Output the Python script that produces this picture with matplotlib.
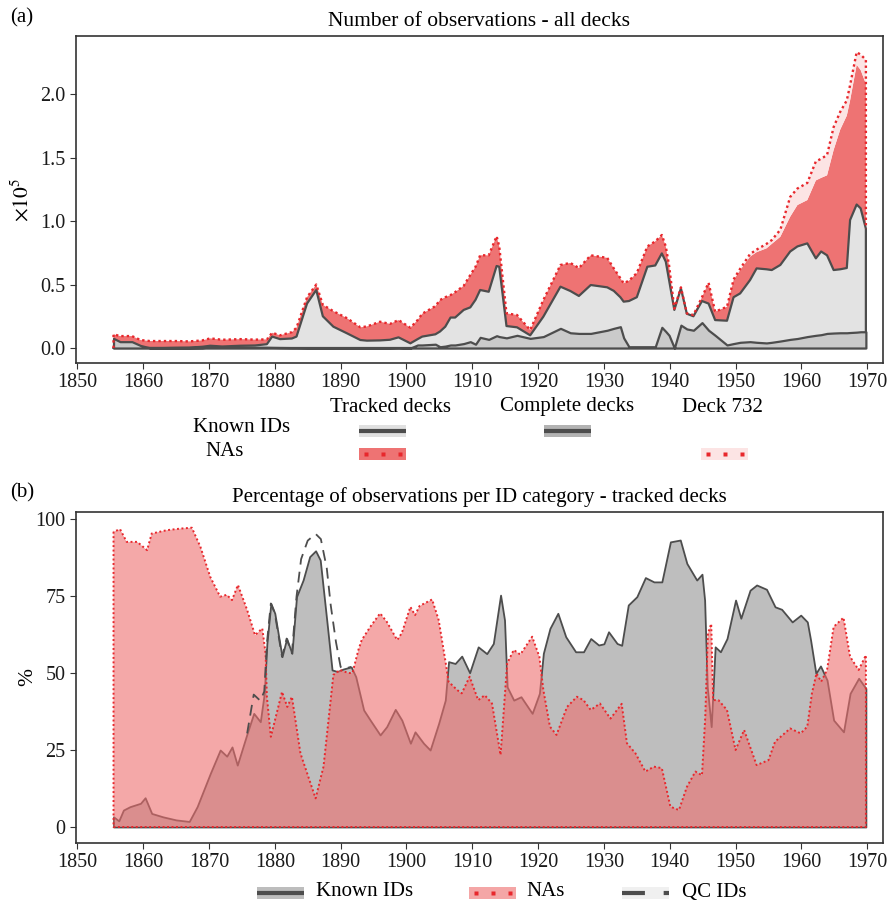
import numpy as np
import matplotlib
matplotlib.use('Agg')
import matplotlib.pyplot as plt
from matplotlib.patches import Rectangle

plt.rcParams['font.family'] = ['Liberation Serif', 'DejaVu Serif']
plt.rcParams['mathtext.fontset'] = 'stix'

# ---------------- panel (a): number of observations, all decks (x 1e5)
a_years = [1855.5, 1856.5, 1858.3, 1859.6, 1861, 1863, 1865, 1867, 1869, 1870.2,
           1872, 1874.8, 1877, 1878.8, 1879.6, 1880.8, 1882.6, 1883.3, 1884.9, 1886.3,
           1887.3, 1888.9, 1891, 1893, 1894, 1896, 1897.5, 1898.8, 1900.6, 1901.7,
           1902.4, 1904.4, 1905.1, 1905.9, 1906.7, 1907.4, 1908.7, 1909.7, 1910.5, 1911.2,
           1912.5, 1913.7, 1914.1, 1915.2, 1916.8, 1918.8, 1920.8, 1923.4, 1924.9, 1926.2,
           1928, 1930.5, 1931.5, 1932.5, 1933, 1933.8, 1935, 1936.6, 1937.8, 1938.8,
           1939.4, 1939.9, 1940.7, 1941.7, 1942.6, 1943.6, 1944.9, 1945.9, 1946.9, 1948.7,
           1949.7, 1950.7, 1952.2, 1953.2, 1954.7, 1955.5, 1956.8, 1958.3, 1959.4, 1960.9,
           1962.2, 1963, 1963.9, 1964.9, 1965.9, 1966.9, 1967.4, 1968.4, 1969.0, 1969.8]

# tracked decks, known IDs
tracked_known = [0, 0, 0, 0, 0, 0, 0.002, 0.003, 0.01, 0.018,
                 0.012, 0.018, 0.02, 0.03, 0.09, 0.07, 0.075, 0.09, 0.35, 0.457,
                 0.25, 0.168, 0.115, 0.063, 0.058, 0.06, 0.065, 0.084, 0.037, 0.07,
                 0.09, 0.108, 0.13, 0.168, 0.24, 0.24, 0.30, 0.32, 0.38, 0.457,
                 0.443, 0.646, 0.64, 0.173, 0.163, 0.10, 0.247, 0.483, 0.449, 0.41,
                 0.496, 0.478, 0.45, 0.40, 0.365, 0.37, 0.40, 0.64, 0.65, 0.745,
                 0.68, 0.535, 0.30, 0.47, 0.27, 0.25, 0.37, 0.35, 0.22, 0.215,
                 0.40, 0.43, 0.535, 0.627, 0.62, 0.614, 0.654, 0.76, 0.80, 0.824,
                 0.706, 0.76, 0.73, 0.614, 0.62, 0.63, 1.008, 1.13, 1.10, 0.94]

# tracked decks, known IDs + NAs
tracked_total = [0.108, 0.094, 0.094, 0.063, 0.055, 0.055, 0.055, 0.052, 0.06, 0.076,
                 0.065, 0.07, 0.066, 0.068, 0.12, 0.10, 0.125, 0.16, 0.40, 0.50,
                 0.34, 0.29, 0.234, 0.163, 0.17, 0.207, 0.19, 0.22, 0.16, 0.22,
                 0.27, 0.33, 0.378, 0.40, 0.417, 0.44, 0.49, 0.575, 0.64, 0.73,
                 0.73, 0.88, 0.80, 0.273, 0.26, 0.142, 0.378, 0.654, 0.67, 0.63,
                 0.73, 0.71, 0.627, 0.55, 0.51, 0.53, 0.59, 0.80, 0.84, 0.89,
                 0.80, 0.65, 0.31, 0.478, 0.273, 0.26, 0.40, 0.514, 0.286, 0.325,
                 0.535, 0.614, 0.72, 0.755, 0.785, 0.82, 0.876, 1.034, 1.126, 1.165,
                 1.32, 1.34, 1.36, 1.56, 1.72, 1.83, 1.95, 2.23, 2.19, 2.08]

# deck 732, NAs (stacked above the tracked decks)
deck732_na = [0, 0, 0, 0, 0, 0, 0, 0, 0, 0,
              0, 0, 0, 0, 0, 0, 0, 0, 0, 0,
              0, 0, 0, 0, 0, 0, 0, 0, 0, 0,
              0, 0, 0, 0, 0, 0, 0, 0, 0, 0,
              0, 0, 0, 0, 0, 0, 0, 0, 0, 0,
              0, 0, 0, 0, 0, 0, 0, 0, 0, 0,
              0, 0, 0, 0, 0, 0, 0, 0, 0, 0,
              0.005, 0.01, 0.02, 0.02, 0.035, 0.03, 0.055, 0.156, 0.13, 0.135,
              0.15, 0.15, 0.16, 0.18, 0.14, 0.12, 0.12, 0.10, 0.12, 0.19]

# complete decks, known IDs
complete_known = [0.076, 0.05, 0.05, 0.02, 0.002, 0.002, 0.002, 0.002, 0.003, 0.008,
                  0.006, 0.008, 0.006, 0.006, 0.005, 0.004, 0.003, 0.003, 0.002, 0.002,
                  0.002, 0.002, 0.002, 0.002, 0.002, 0.002, 0.002, 0.003, 0.0, 0.024,
                  0.024, 0.03, 0.01, 0.015, 0.024, 0.024, 0.035, 0.05, 0.03, 0.084,
                  0.068, 0.097, 0.09, 0.08, 0.10, 0.076, 0.09, 0.155, 0.12, 0.115,
                  0.115, 0.14, 0.155, 0.168, 0.08, 0.01, 0.01, 0.01, 0.01, 0.163,
                  0.13, 0.10, 0.0, 0.18, 0.15, 0.14, 0.2, 0.14, 0.1, 0.024,
                  0.035, 0.045, 0.05, 0.045, 0.04, 0.045, 0.055, 0.068, 0.075, 0.09,
                  0.10, 0.105, 0.115, 0.118, 0.12, 0.12, 0.122, 0.125, 0.128, 0.128]

# ---------------- panel (b): percentage per ID category, tracked decks
b_known_years = [1855.5, 1856.3, 1857.0, 1858.0, 1859.6, 1860.3, 1861.3, 1863.0, 1865.0, 1867.0,
                 1868.2, 1870.2, 1871.7, 1872.7, 1873.5, 1874.3, 1875.8, 1876.8, 1877.8, 1878.4,
                 1878.8, 1879.4, 1880.0, 1881.1, 1881.8, 1882.6, 1883.3, 1884.3, 1885.3, 1886.2,
                 1886.9, 1887.9, 1888.7, 1889.5, 1890.4, 1891.6, 1892.3, 1893.5, 1894.5, 1896.0,
                 1897.0, 1898.3, 1899.3, 1900.6, 1901.3, 1902.6, 1903.6, 1904.9, 1905.9, 1906.4,
                 1907.4, 1908.4, 1909.6, 1910.9, 1912.2, 1913.2, 1914.3, 1914.9, 1915.3, 1916.3,
                 1917.4, 1919.1, 1920.2, 1920.8, 1921.8, 1923.0, 1924.2, 1925.7, 1926.9, 1928.0,
                 1929.2, 1930.0, 1930.7, 1932.0, 1932.7, 1933.7, 1935.0, 1936.3, 1937.6, 1938.8,
                 1940.1, 1941.6, 1942.6, 1944.1, 1944.9, 1945.3, 1945.7, 1946.3, 1946.9, 1947.7,
                 1948.7, 1950.0, 1950.8, 1952.2, 1953.2, 1954.7, 1956.0, 1957.0, 1958.6, 1959.9,
                 1960.9, 1961.4, 1962.2, 1962.9, 1963.9, 1964.9, 1966.4, 1967.4, 1968.7, 1969.8]
b_known = [3.3, 2.0, 5.5, 6.6, 7.7, 9.5, 4.4, 3.3, 2.3, 1.8,
           6.6, 17.4, 25, 23, 26, 20.1, 30.4, 36.9, 34.2, 43.4,
           59.6, 72.6, 69.4, 55.3, 61.2, 56.4, 74.8, 80.2, 87.8, 89.7,
           86.7, 67, 51, 50.5, 51.3, 52, 48.8, 38, 34.7, 29.9,
           32.6, 38.2, 34.7, 27.2, 30.9, 27.2, 25, 33.7, 41.2, 53.7,
           53.1, 55.5, 50.1, 58.5, 56.3, 59.6, 75.3, 67.2, 45.5, 41.2,
           42.3, 36.9, 43.4, 56.4, 64.5, 69.4, 61.8, 56.9, 56.9, 61.2,
           59.1, 59.5, 63.4, 59.6, 59, 72.1, 74.8, 81, 79.6, 79.6,
           92.6, 93.2, 85.6, 80.2, 82.1, 73.7, 45.5, 32.6, 58.5, 56.9,
           61.2, 73.7, 67.8, 76.9, 78.6, 77.2, 71.5, 70.7, 66.6, 68.8,
           66.6, 60.7, 49.9, 52.3, 47.7, 34.7, 30.9, 43.4, 48.3, 45]

b_na_years = [1855.5, 1856.5, 1857.5, 1859.1, 1860.6, 1861.3, 1863.6, 1865.6, 1867.4, 1868.7,
              1870.2, 1871.7, 1872.7, 1873.5, 1874.4, 1875.8, 1877.0, 1878.1, 1878.6, 1878.8,
              1879.4, 1881.1, 1881.9, 1882.6, 1883.9, 1886.2, 1887.4, 1888.9, 1889.9, 1891.2,
              1891.8, 1892.7, 1893.2, 1894.5, 1896.0, 1897.0, 1898.6, 1899.3, 1900.6, 1901.3,
              1902.0, 1903.9, 1904.9, 1905.9, 1906.4, 1907.7, 1908.4, 1909.6, 1910.9, 1911.9,
              1913.0, 1914.3, 1915.3, 1916.3, 1917.3, 1919.1, 1920.2, 1920.8, 1921.8, 1922.8,
              1924.4, 1925.9, 1926.9, 1928.0, 1929.4, 1931.0, 1932.7, 1933.5, 1934.8, 1936.3,
              1937.6, 1938.8, 1940.1, 1941.4, 1942.6, 1943.9, 1944.9, 1945.4, 1945.8, 1946.3,
              1946.6, 1947.4, 1948.7, 1950.0, 1951.3, 1953.2, 1955.0, 1956.0, 1958.3, 1959.9,
              1960.9, 1961.6, 1962.3, 1963.0, 1963.9, 1964.9, 1966.4, 1967.4, 1968.7, 1969.8]
b_na = [95.9, 96.7, 92.6, 92.6, 89.9, 95.3, 96.4, 96.9, 97.2, 91,
        81.2, 74.8, 75.4, 73.7, 78.6, 70.5, 62.3, 64.5, 56.4, 42.3,
        29.3, 43.9, 39, 42.3, 23.9, 9.3, 19.6, 49.4, 51, 50,
        50, 57.5, 60.7, 65, 69.4, 66.7, 60.7, 63, 71.5, 68.8,
        71.8, 73.9, 67.2, 54.2, 47.2, 44.5, 43.4, 48.8, 41.2, 42.8,
        40.1, 23.4, 53.1, 57.5, 56, 61.8, 55.3, 44.5, 32.6, 29.9,
        39, 42.3, 41.2, 38, 40.1, 35.2, 40, 27.2, 23.9, 18,
        19.6, 19.1, 6.6, 5.5, 13, 18, 16.8, 35.8, 62.8, 66,
        41.2, 41.2, 38, 25, 31.5, 20.1, 21.7, 27.7, 32, 30.4,
        32.6, 43.4, 49.9, 47.2, 51, 65, 68, 55.3, 51, 55.8]

# QC IDs: only the stretch where they differ from the known IDs
qc_years = [1875.8, 1876.8, 1877.8, 1878.4, 1878.8, 1879.4, 1880.0, 1881.1, 1881.8, 1882.6,
            1883.3, 1884.0, 1885.0, 1886.2, 1887.0, 1887.9, 1888.5, 1889.3, 1890.0, 1890.4, 1891.6]
qc_ids = [30.4, 43, 41, 44, 59.6, 72.6, 69.4, 55.3, 61.2, 56.4,
          74.8, 87, 93, 95.2, 93.5, 84, 72, 60, 52, 51.3, 52]

# colours
grey_line = '#4d4d4d'
red_line = '#e8272c'
frame = '#333333'

W, H = 890, 901
fig = plt.figure(figsize=(W / 100, H / 100), dpi=100)


def box(x0, y0, x1, y1):
    # pixel box (top-left origin) -> figure fraction
    return [x0 / W, 1 - y1 / H, (x1 - x0) / W, (y1 - y0) / H]


ax1 = fig.add_axes(box(76, 36, 883, 363))
ax2 = fig.add_axes(box(76, 512, 883, 843))

# ---- panel (a)
yrs = np.array(a_years)
known = np.array(tracked_known)
total = np.array(tracked_total)
top732 = total + np.array(deck732_na)

ax1.fill_between(yrs, 0, known, facecolor='#e3e3e3', lw=0)
ax1.fill_between(yrs, known, total, facecolor='#ee7373', lw=0)
ax1.fill_between(yrs, total, top732, facecolor='#fce4e4', lw=0)
ax1.plot(np.r_[yrs[0], yrs, yrs[-1]], np.r_[known[0], top732, known[-1]],
         color=red_line, lw=1.7, ls=(0, (1, 1.3)))
ax1.fill_between(yrs, 0, known, facecolor='none', edgecolor=grey_line, lw=1.6)
ax1.fill_between(yrs, 0, complete_known, facecolor='#cacaca', edgecolor=grey_line, lw=1.6)

ax1.set_xlim(1849.8, 1972.4)
ax1.set_ylim(-0.118, 2.457)
ax1.set_yticks([0, 0.5, 1.0, 1.5, 2.0])
ax1.set_yticklabels(['0.0', '0.5', '1.0', '1.5', '2.0'])
ax1.set_ylabel(r'$\times10^5$', fontsize=15.5)
ax1.yaxis.set_label_coords(-0.053, 0.5)
ax1.set_title('Number of observations - all decks', fontsize=15.5, pad=7)

# ---- panel (b)
ax2.plot(qc_years, qc_ids, color=grey_line, lw=1.3, dashes=(6, 4))
ax2.fill_between(b_known_years, 0, b_known, facecolor='#bebebe', edgecolor=grey_line, lw=1.3)
ax2.fill_between(b_na_years, 0, b_na, facecolor='#ed6e6e', alpha=0.6, lw=0)
ax2.fill_between(b_na_years, 0, b_na, facecolor='none', edgecolor=red_line,
                 lw=1.4, ls=(0, (1, 1.3)))

ax2.set_xlim(1849.8, 1972.4)
ax2.set_ylim(-5.2, 102.3)
ax2.set_yticks([0, 25, 50, 75, 100])
ax2.set_ylabel('%', fontsize=15.5)
ax2.yaxis.set_label_coords(-0.048, 0.5)
ax2.set_title('Percentage of observations per ID category - tracked decks', fontsize=15, pad=7)

for ax in (ax1, ax2):
    ax.set_xticks(range(1850, 1971, 10))
    for s in ax.spines.values():
        s.set_color(frame)
        s.set_linewidth(1.2)
    ax.tick_params(direction='out', length=4, width=0.8, color=frame,
                   labelsize=14.5, labelcolor='#1a1a1a')

fig.text(10 / W, 1 - 18 / H, '(a)', fontsize=15, va='center')
fig.text(10 / W, 1 - 493 / H, '(b)', fontsize=15, va='center')

# ---- legends, drawn in pixel coordinates on an overlay axes
lax = fig.add_axes([0, 0, 1, 1])
lax.set_xlim(0, W)
lax.set_ylim(H, 0)
lax.axis('off')


def key_line(x, y, fill, dashes=None):
    lax.add_patch(Rectangle((x, y - 6), 47, 12, facecolor=fill, lw=0))
    if dashes:
        lax.plot([x, x + 47], [y, y], color=grey_line, lw=3, dashes=dashes)
    else:
        lax.plot([x, x + 47], [y, y], color=grey_line, lw=3, solid_capstyle='butt')


def key_dots(x, y, fill):
    lax.add_patch(Rectangle((x, y - 6), 47, 12, facecolor=fill, lw=0))
    lax.plot([x + 7, x + 24, x + 41], [y, y, y], ls='none', marker='s',
             ms=2.6, color=red_line, mec='none')


# panel (a) table legend
for xc, lab in [(390, 'Tracked decks'), (567, 'Complete decks'), (722, 'Deck 732')]:
    lax.text(xc, 407, lab, fontsize=15, ha='center', va='center')
lax.text(193, 427, 'Known IDs', fontsize=15, ha='left', va='center')
lax.text(205, 452, 'NAs', fontsize=15, ha='left', va='center')
key_line(359, 431, '#e0e0e0')
key_line(544, 431, '#b3b3b3')
key_dots(359, 454, '#ee7373')
key_dots(701, 454, '#fce4e4')

# panel (b) legend
key_line(257, 893, '#bdbdbd')
lax.text(316, 892, 'Known IDs', fontsize=15, ha='left', va='center')
key_dots(469, 893, '#f4a6a6')
lax.text(526, 892, 'NAs', fontsize=15, ha='left', va='center')
key_line(622, 893, '#f0f0f0', dashes=(5.5, 4.5))
lax.text(682, 892, 'QC IDs', fontsize=15, ha='left', va='center')

fig.savefig('out.png', dpi=100)
